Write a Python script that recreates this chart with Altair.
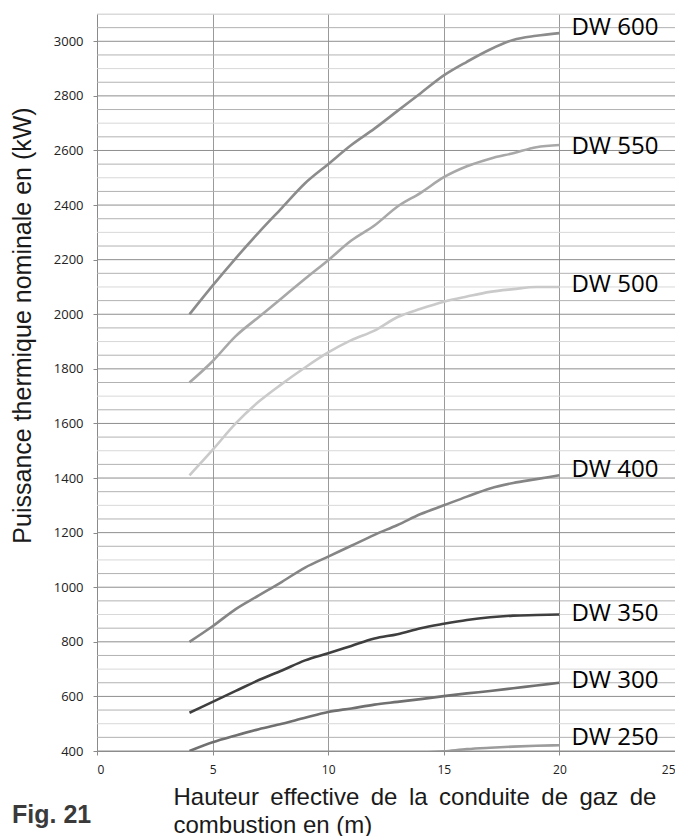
import altair as alt
import pandas as pd

# ---- data ----
heights = [4, 5, 6, 7, 8, 9, 10, 11, 12, 13, 14, 15, 16, 17, 18, 19, 20]
dw600 = [2000, 2105, 2205, 2300, 2390, 2480, 2550, 2620, 2680, 2745, 2810, 2875, 2925, 2970, 3005, 3020, 3030]
dw550 = [1750, 1828, 1920, 1990, 2060, 2130, 2198, 2270, 2325, 2395, 2445, 2502, 2542, 2570, 2590, 2612, 2620]
dw500 = [1410, 1503, 1600, 1680, 1745, 1805, 1860, 1905, 1940, 1990, 2020, 2046, 2065, 2082, 2092, 2100, 2100]
dw400 = [800, 857, 920, 970, 1020, 1072, 1112, 1152, 1192, 1228, 1268, 1300, 1332, 1362, 1382, 1396, 1410]
dw350 = [540, 580, 620, 660, 695, 732, 758, 785, 812, 828, 850, 866, 880, 890, 896, 898, 900]
dw300 = [400, 432, 457, 480, 500, 522, 543, 556, 570, 580, 590, 601, 611, 620, 630, 640, 650]
heights_250 = [13, 14, 15, 16, 17, 18, 19, 20]
dw250 = [392, 394, 399, 407, 412, 416, 419, 421]

series_names = ["DW 600", "DW 550", "DW 500", "DW 400", "DW 350", "DW 300", "DW 250"]
series_colors = ["#8c8c8c", "#a8a8a8", "#cacaca", "#858585", "#3f3f3f", "#707070", "#9c9c9c"]
series_widths = [2.6, 2.6, 2.6, 2.6, 3.0, 2.6, 2.6]
label_y = [3047, 2614, 2108, 1428, 902, 656, 448]

y_label_values = [400, 600, 800, 1000, 1200, 1400, 1600, 1800, 2000, 2200, 2400, 2600, 2800, 3000]
y_grid_values = list(range(400, 3101, 50))
x_tick_values = [0, 5, 10, 15, 20, 25]

# first title line is justified in the reference: widen each gap with a thin space
x_title_line1 = " \u2009".join("Hauteur effective de la conduite de gaz de".split(" "))
x_title_line2 = "combustion en (m)"

rows = []
for name, xs, ys in [
    ("DW 600", heights, dw600),
    ("DW 550", heights, dw550),
    ("DW 500", heights, dw500),
    ("DW 400", heights, dw400),
    ("DW 350", heights, dw350),
    ("DW 300", heights, dw300),
    ("DW 250", heights_250, dw250),
]:
    for xv, yv in zip(xs, ys):
        rows.append({"series": name, "h": xv, "p": yv})
df = pd.DataFrame(rows)

grid_df = pd.DataFrame({
    "p": y_grid_values,
    "kind": ["major" if v % 200 == 0 else ("mid" if v % 100 == 0 else "minor") for v in y_grid_values],
})
labels_df = pd.DataFrame({"series": series_names, "h": [20] * len(series_names), "p": label_y})
fig_df = pd.DataFrame({"t": ["Fig. 21"]})

xscale = alt.Scale(domain=[0, 25], nice=False, zero=False)
yscale = alt.Scale(domain=[400, 3100], nice=False, zero=False)

x_axis = alt.Axis(
    values=x_tick_values,
    grid=True,
    gridColor="#9a9a9a",
    gridWidth=1,
    domainColor="#8a8a8a",
    tickColor="#8a8a8a",
    tickSize=4,
    labelFont="Open Sans",
    labelFontSize=12,
    labelColor="#222222",
    labelPadding=9,
    title=[x_title_line1, x_title_line2],
    titleFont="Liberation Sans",
    titleFontSize=24,
    titleFontWeight="normal",
    titleColor="#1a1a1a",
    titleAlign="left",
    titleAnchor="start",
    titleBaseline="alphabetic",
    titleX=76,
    titleY=53,
    titleLineHeight=28,
)

y_axis = alt.Axis(
    values=y_label_values,
    format="d",
    grid=False,
    domainColor="#8a8a8a",
    tickColor="#8a8a8a",
    tickSize=4,
    labelFont="Open Sans",
    labelFontSize=13,
    labelColor="#222222",
    labelPadding=10,
    title="Puissance thermique nominale en (kW)",
    titleFont="Liberation Sans",
    titleFontSize=25,
    titleFontWeight="normal",
    titleColor="#1a1a1a",
    titleAngle=-90,
    titleBaseline="alphabetic",
    titleAlign="center",
    titleX=-67,
    titleY=311,
)

grid = alt.Chart(grid_df).mark_rule(strokeWidth=1).encode(
    y=alt.Y("p:Q", scale=yscale, axis=y_axis),
    color=alt.Color(
        "kind:N",
        scale=alt.Scale(domain=["major", "mid", "minor"], range=["#8e8e8e", "#d8d8d8", "#b2b2b2"]),
        legend=None,
    ),
)

lines = alt.Chart(df).mark_line(interpolate="monotone", clip=True).encode(
    x=alt.X("h:Q", scale=xscale, axis=x_axis),
    y=alt.Y("p:Q", scale=yscale),
    stroke=alt.Stroke("series:N", scale=alt.Scale(domain=series_names, range=series_colors), legend=None),
    strokeWidth=alt.StrokeWidth("series:N", scale=alt.Scale(domain=series_names, range=series_widths), legend=None),
    detail="series:N",
)

labels = alt.Chart(labels_df).mark_text(
    align="left", baseline="middle", dx=12, font="Open Sans", fontSize=24, color="#000000"
).encode(
    x=alt.X("h:Q", scale=xscale),
    y=alt.Y("p:Q", scale=yscale),
    text="series:N",
)

fig = alt.Chart(fig_df).mark_text(
    align="left", baseline="alphabetic", font="Liberation Sans", fontSize=25, fontWeight="bold", color="#3a3a3a"
).encode(
    x=alt.value(-85),
    y=alt.value(809),
    text="t:N",
)

chart = alt.layer(grid, lines, labels, fig).resolve_scale(color="independent").properties(
    width=578,
    height=737,
    autosize=alt.AutoSizeParams(type="none"),
    padding={"left": 89, "top": 6, "right": 0, "bottom": 85},
).configure_view(stroke="#b0b0b0", strokeWidth=1).configure(background="white")

chart.save("out.html", embed_options={"renderer": "svg", "actions": False})
